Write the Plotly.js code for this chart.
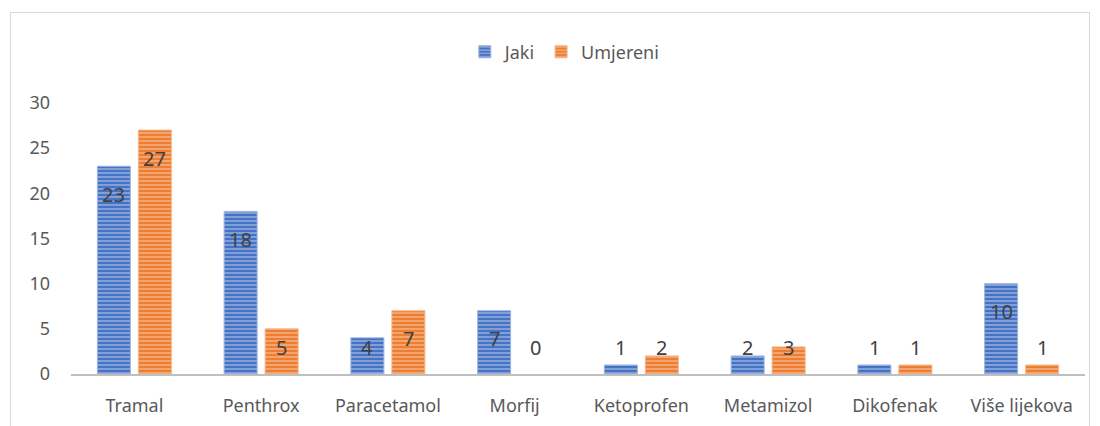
<!DOCTYPE html>
<html><head><meta charset="utf-8">
<script src="https://cdn.plot.ly/plotly-3.0.1.min.js"></script>
<style>
html,body{margin:0;padding:0;background:#fff;overflow:hidden;}
#frame{position:absolute;left:10px;top:12px;width:1080px;height:440px;border:1px solid #D9D9D9;box-sizing:border-box;}
#chart{position:absolute;left:0;top:0;width:1100px;height:426px;}
</style></head>
<body>
<div id="frame"></div>
<div id="chart"></div>
<script>
const categories = ["Tramal","Penthrox","Paracetamol","Morfij","Ketoprofen","Metamizol","Dikofenak","Više lijekova"];
const jaki = [23,18,4,7,1,2,1,10];
const umjereni = [27,5,7,0,2,3,1,1];
const seriesNames = ["Jaki","Umjereni"];
const yTicks = [0,5,10,15,20,25,30];

const FONT = "Noto Sans, Lato, sans-serif";
const TXT = "#595959";

function barTrace(name, vals, base, light){
  return {
    type:"bar", name:name, x:categories, y:vals,
    marker:{color:base, line:{color:light, width:vals.map(v=>v>0?1:0)},
      pattern:{shape:"-", fgcolor:light, bgcolor:base, size:4, solidity:0.35}},
    hoverinfo:"none"
  };
}
const traces = [
  barTrace(seriesNames[0], jaki, "#4472C4", "#9DB4E0"),
  barTrace(seriesNames[1], umjereni, "#ED7D31", "#F6B58A")
];

const annotations = [];
function addLabels(vals, shift){
  vals.forEach((v,i)=>{
    annotations.push({x:categories[i], y:Math.max(v-3.1, 2.88), text:String(v),
      showarrow:false, xshift:shift, yanchor:"middle", xref:"x", yref:"y",
      font:{family:FONT, size:20, color:"#404040"}});
  });
}
addLabels(jaki, -20.5);
addLabels(umjereni, 20.5);

const layout = {
  width:1100, height:426,
  margin:{l:71, r:15, t:103, b:52},
  paper_bgcolor:"rgba(0,0,0,0)", plot_bgcolor:"rgba(0,0,0,0)",
  barmode:"group", bargap:0.353, bargroupgap:0.195,
  font:{family:FONT, size:18, color:TXT},
  showlegend:true,
  legend:{orientation:"h", x:0.487, xanchor:"center", y:1.188, yanchor:"middle",
    font:{family:FONT, size:18, color:TXT}, itemwidth:30, traceorder:"normal"},
  xaxis:{type:"category", showgrid:false, zeroline:false, showline:true, linecolor:"#BFBFBF", linewidth:2,
    ticks:"", tickfont:{family:FONT, size:18, color:TXT}, ticklabelstandoff:14, fixedrange:true},
  yaxis:{range:[0,30], tickvals:yTicks, showgrid:false, zeroline:false, showline:false, ticks:"",
    tickfont:{family:FONT, size:18, color:TXT}, ticklabelstandoff:20, fixedrange:true},
  annotations:annotations
};
Plotly.newPlot("chart", traces, layout, {displayModeBar:false, staticPlot:true});
</script>
</body></html>
